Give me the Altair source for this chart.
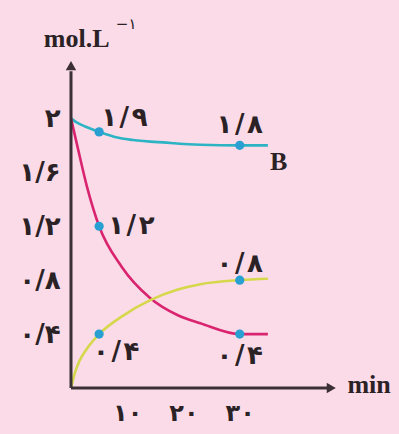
import altair as alt
import pandas as pd

# Concentration curves (time in min, concentration in mol/L)
cyan_t = [0, 1, 2.5, 5, 8, 11, 17, 23, 30, 35]
cyan_c = [2.0, 1.97, 1.94, 1.9, 1.86, 1.84, 1.82, 1.805, 1.8, 1.8]

mag_t = [0, 1.1, 2.8, 5, 9, 14, 19, 23, 30, 35]
mag_c = [2.0, 1.8, 1.5, 1.2, 0.9, 0.67, 0.54, 0.48, 0.4, 0.4]

yel_t = [0, 0.6, 1.5, 2.8, 5, 9, 14, 19, 23, 30, 35]
yel_c = [0.0, 0.1, 0.2, 0.29, 0.4, 0.53, 0.65, 0.73, 0.77, 0.8, 0.81]

# Marked points and their labels
H = "\u200a"  # hair space around the decimal slash
pt_t = [5, 5, 5, 30, 30, 30]
pt_c = [1.9, 1.2, 0.4, 1.8, 0.4, 0.8]
pt_label = [f"۱{H}/{H}۹", f"۱{H}/{H}۲", f"۰{H}/{H}۴", f"۱{H}/{H}۸", f"۰{H}/{H}۴", f"۰{H}/{H}۸"]
pt_pos = ["right-up", "right", "below-right", "above", "below", "above-low"]

y_ticks = [0.4, 0.8, 1.2, 1.6, 2.0]
y_tick_labels = ["۰/۴", "۰/۸", "۱/۲", "۱/۶", "۲"]
x_ticks = [10, 20, 30]
x_tick_labels = ["۱۰", "۲۰", "۳۰"]

X_MAX = 48
Y_MAX = 2.5
X_ARROW = 47.2
Y_ARROW = 2.43

BG = "#fbdbe8"
AXIS_COLOR = "#3d3035"
DOT = "#2a9fd2"
INK = "#2b2226"
DIGIT_FONT = "DejaVu Sans"
DIGIT_SIZE = 26

def ternary(values, labels):
    expr = "datum.label"
    for v, l in zip(values, labels):
        expr = f"datum.value == {v} ? '{l}' : ({expr})"
    return expr

xs = alt.Scale(domain=[0, X_MAX], nice=False, zero=False)
ys = alt.Scale(domain=[0, Y_MAX], nice=False, zero=False)

curves = pd.concat([
    pd.DataFrame({"t": cyan_t, "c": cyan_c, "s": "B"}),
    pd.DataFrame({"t": mag_t, "c": mag_c, "s": "A"}),
    pd.DataFrame({"t": yel_t, "c": yel_c, "s": "C"}),
])

x_enc = alt.X("t:Q", scale=xs, axis=alt.Axis(
    values=x_ticks, labelExpr=ternary(x_ticks, x_tick_labels), domain=False,
    ticks=False, grid=False, title=None, labelFont=DIGIT_FONT,
    labelFontSize=DIGIT_SIZE - 2, labelColor=INK, labelPadding=13, labelFontWeight="bold"))
y_enc = alt.Y("c:Q", scale=ys, axis=alt.Axis(
    values=y_ticks, labelExpr=ternary(y_ticks, y_tick_labels), domain=False,
    ticks=False, grid=False, title=None, labelFont=DIGIT_FONT,
    labelFontSize=DIGIT_SIZE, labelColor=INK, labelPadding=11, labelFontWeight="bold"))

lines = alt.Chart(curves).mark_line(interpolate="monotone", strokeWidth=2.6).encode(
    x=x_enc, y=y_enc,
    color=alt.Color("s:N", scale=alt.Scale(domain=["B", "A", "C"],
                                           range=["#2db4c4", "#d9246f", "#d6d84c"]),
                    legend=None),
)

pts = pd.DataFrame({"t": pt_t, "c": pt_c, "label": pt_label, "pos": pt_pos})
dots = alt.Chart(pts).mark_circle(size=85, color=DOT, opacity=1).encode(
    x=alt.X("t:Q", scale=xs), y=alt.Y("c:Q", scale=ys))

def label_layer(pos, dx, dy, align="center"):
    return alt.Chart(pts[pts.pos == pos]).mark_text(
        font=DIGIT_FONT, fontSize=DIGIT_SIZE, fontWeight="bold", color=INK,
        dx=dx, dy=dy, align=align).encode(
        x=alt.X("t:Q", scale=xs), y=alt.Y("c:Q", scale=ys), text="label:N")

labels = (label_layer("right-up", 2, -14, "left") + label_layer("right", 9, 0, "left")
          + label_layer("below-right", 17, 18) + label_layer("below", 0, 22)
          + label_layer("above", 0, -20) + label_layer("above-low", 0, -16))

# Axes with arrowheads
axes_df = pd.DataFrame({"t": [0, 0], "c": [0, 0], "t2": [X_ARROW - 1.2, 0],
                        "c2": [0, Y_ARROW - 0.08]})
axis_lines = alt.Chart(axes_df).mark_rule(color=AXIS_COLOR, strokeWidth=3).encode(
    x=alt.X("t:Q", scale=xs), y=alt.Y("c:Q", scale=ys), x2="t2:Q", y2="c2:Q")
heads = alt.Chart(pd.DataFrame({"t": [X_ARROW - 1.2, 0], "c": [0, Y_ARROW - 0.05],
                                "a": [90, 0]})).mark_point(
    shape="triangle", filled=True, size=110, color=AXIS_COLOR, opacity=1).encode(
    x=alt.X("t:Q", scale=xs), y=alt.Y("c:Q", scale=ys), angle=alt.Angle("a:Q", scale=None))

# Axis names and series name
names = pd.DataFrame({"t": [53.0, 1.0, 36.9], "c": [0.02, 2.59, 1.68],
                      "txt": ["min", "mol.L", "B"]})
name_text = alt.Chart(names).mark_text(
    font="Liberation Serif", fontSize=26, fontWeight="bold", color=INK,
    align="center").encode(
    x=alt.X("t:Q", scale=xs), y=alt.Y("c:Q", scale=ys), text="txt:N")
sup = alt.Chart(pd.DataFrame({"t": [9.8], "c": [2.70], "txt": ["−۱"]})).mark_text(
    font=DIGIT_FONT, fontSize=15, color=INK).encode(
    x=alt.X("t:Q", scale=xs), y=alt.Y("c:Q", scale=ys), text="txt:N")

chart = alt.layer(lines, axis_lines, heads, dots, labels, name_text, sup).properties(
    width=270, height=337, background=BG,
    padding={"left": 71, "top": 51, "right": 58, "bottom": 46},
    autosize=alt.AutoSizeParams(type="none"),
).configure_view(stroke=None)

chart.save("out.html", embed_options={"renderer": "svg", "actions": False})
